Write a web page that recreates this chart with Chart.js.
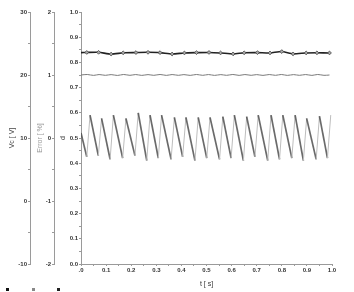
<!DOCTYPE html>
<html><head><meta charset="utf-8">
<script src="https://cdn.jsdelivr.net/npm/chart.js@4/dist/chart.umd.min.js"></script>
<style>html,body{margin:0;padding:0;background:#fff;}#c{display:block;}</style>
</head><body>
<canvas id="c" width="354" height="292"></canvas>
<script>
// ---- data ----
const vcT = [0.000,0.023,0.070,0.120,0.168,0.219,0.267,0.315,0.363,0.412,0.460,0.510,0.556,0.606,0.650,0.703,0.753,0.800,0.845,0.897,0.940,0.990];
const vcValues = [23.55,23.58,23.60,23.32,23.52,23.56,23.60,23.55,23.33,23.50,23.55,23.58,23.50,23.35,23.52,23.55,23.50,23.72,23.35,23.50,23.52,23.50];

const errT = [0.000,0.025,0.050,0.072,0.097,0.120,0.145,0.170,0.195,0.218,0.242,0.267,0.290,0.315,0.340,0.363,0.388,0.410,0.435,0.460,0.485,0.508,0.532,0.557,0.580,0.605,0.630,0.653,0.678,0.700,0.725,0.750,0.775,0.798,0.822,0.847,0.870,0.895,0.920,0.943,0.968,0.990];
const errValues = [1.000,1.008,0.994,1.007,0.995,1.006,
                   0.993,1.008,0.995,1.007,0.994,1.006,
                   0.995,1.008,0.994,1.007,0.995,1.006,
                   0.994,1.008,0.995,1.007,0.994,1.006,
                   0.995,1.008,0.994,1.007,0.995,1.006,
                   0.994,1.007,0.995,1.008,0.994,1.006,
                   0.995,1.007,0.994,1.008,0.995,1.000];

const dT = [0.000, 0.023,0.036, 0.069,0.082, 0.116,0.129, 0.166,0.179, 0.215,0.228, 0.262,0.275, 0.308,0.321, 0.359,0.372, 0.405,0.418, 0.454,0.467, 0.501,0.514, 0.552,0.565, 0.598,0.611, 0.647,0.660, 0.693,0.706, 0.744,0.757, 0.791,0.804, 0.840,0.853, 0.886,0.899, 0.937,0.950, 0.982,0.995];
const dValues = [0.520, 0.425,0.591, 0.430,0.578, 0.415,0.591, 0.420,0.578, 0.430,0.600, 0.410,0.591, 0.420,0.591, 0.415,0.582, 0.425,0.582, 0.410,0.582, 0.420,0.582, 0.415,0.585, 0.420,0.591, 0.410,0.585, 0.425,0.591, 0.410,0.591, 0.415,0.591, 0.420,0.591, 0.410,0.578, 0.415,0.587, 0.420,0.591];

const seriesNames = ['Vc', 'Error', 'd'];
const axisTitles = {x: 't [ s]', vc: 'Vc [ V]', err: 'Error [ %]', d: 'd'};

// ---- helpers ----
const pts = (xs, ys) => xs.map((x, i) => ({x: x, y: ys[i]}));
const tickFont = {family: 'Liberation Sans, Arial, sans-serif', size: 6, weight: 'bold'};
const titleFont = {family: 'Liberation Sans, Arial, sans-serif', size: 7};
const isMult = (v, m) => Math.abs(v / m - Math.round(v / m)) < 1e-6;
const gridOpts = {drawOnChartArea: false, drawTicks: true, tickLength: 2, color: '#9a9a9a'};
const borderOpts = {display: true, color: '#9a9a9a', width: 1};

const legendSquares = {
  id: 'legendSquares',
  afterDraw(chart) {
    const ctx = chart.ctx;
    const xs = [6, 32, 57];
    chart.data.datasets.forEach((ds, i) => {
      ctx.fillStyle = ds.legendColor;
      ctx.fillRect(xs[i], 288, 3, 3);
    });
  }
};

new Chart(document.getElementById('c'), {
  type: 'line',
  data: {
    datasets: [
      {
        label: seriesNames[0], yAxisID: 'yVc', data: pts(vcT, vcValues),
        borderColor: '#222', borderWidth: 1.6, legendColor: '#111',
        pointStyle: 'rectRot', pointRadius: (c) => c.dataIndex === 0 ? 0 : 1.9,
        pointBackgroundColor: '#aaa', pointBorderColor: '#444', pointBorderWidth: 0.8,
        tension: 0.2
      },
      {
        label: seriesNames[1], yAxisID: 'yErr', data: pts(errT, errValues),
        borderColor: '#7a7a7a', borderWidth: 1, legendColor: '#888',
        pointRadius: 0, tension: 0.3
      },
      {
        label: seriesNames[2], yAxisID: 'yD', data: pts(dT, dValues),
        borderColor: '#5a5a5a', borderWidth: 1.6, legendColor: '#222',
        pointRadius: 0, tension: 0,
        segment: {
          borderColor: (c) => c.p1.parsed.y > c.p0.parsed.y ? '#bdbdbd' : 'rgba(80,80,80,0.85)',
          borderWidth: (c) => c.p1.parsed.y > c.p0.parsed.y ? 1 : 1.7
        }
      }
    ]
  },
  options: {
    responsive: false, animation: false, devicePixelRatio: 1,
    layout: {padding: {top: 12, left: 0, right: 22, bottom: 0}},
    plugins: {legend: {display: false}, tooltip: {enabled: false}},
    scales: {
      x: {
        type: 'linear', min: 0, max: 1,
        border: borderOpts, grid: gridOpts,
        ticks: {
          stepSize: 0.05, autoSkip: false, maxRotation: 0, padding: 1,
          color: '#333', font: tickFont,
          callback: (v) => isMult(v, 0.1) ? (Math.abs(v) < 1e-9 ? '.0' : v.toFixed(1)) : ''
        },
        title: {display: true, text: axisTitles.x, color: '#333', font: titleFont, padding: {top: 0, bottom: 4}},
        afterFit: (s) => { s.height = 28; }
      },
      yVc: {
        type: 'linear', position: 'left', weight: 3, min: -10, max: 30,
        border: borderOpts, grid: gridOpts,
        ticks: {stepSize: 5, autoSkip: false, padding: 1, color: '#333', font: tickFont,
          callback: (v) => isMult(v, 10) ? String(Math.round(v)) : ''},
        title: {display: true, text: axisTitles.vc, color: '#444', font: titleFont, padding: {top: 8, bottom: 0}},
        afterFit: (s) => { s.width = 30; }
      },
      yErr: {
        type: 'linear', position: 'left', weight: 2, min: -2, max: 2,
        border: borderOpts, grid: gridOpts,
        ticks: {stepSize: 0.5, autoSkip: false, padding: 1, color: '#333', font: tickFont,
          callback: (v) => isMult(v, 1) ? String(Math.round(v)) : ''},
        title: {display: true, text: axisTitles.err, color: '#999', font: titleFont, padding: {top: 6, bottom: 0}},
        afterFit: (s) => { s.width = 24; }
      },
      yD: {
        type: 'linear', position: 'left', weight: 1, min: 0, max: 1,
        border: borderOpts, grid: gridOpts,
        ticks: {stepSize: 0.05, autoSkip: false, padding: 1, color: '#333', font: tickFont,
          callback: (v) => isMult(v, 0.1) ? v.toFixed(1) : ''},
        title: {display: true, text: axisTitles.d, color: '#444', font: titleFont, padding: {top: 5, bottom: 0}},
        afterFit: (s) => { s.width = 27; }
      }
    }
  },
  plugins: [legendSquares]
});
</script>
</body></html>
